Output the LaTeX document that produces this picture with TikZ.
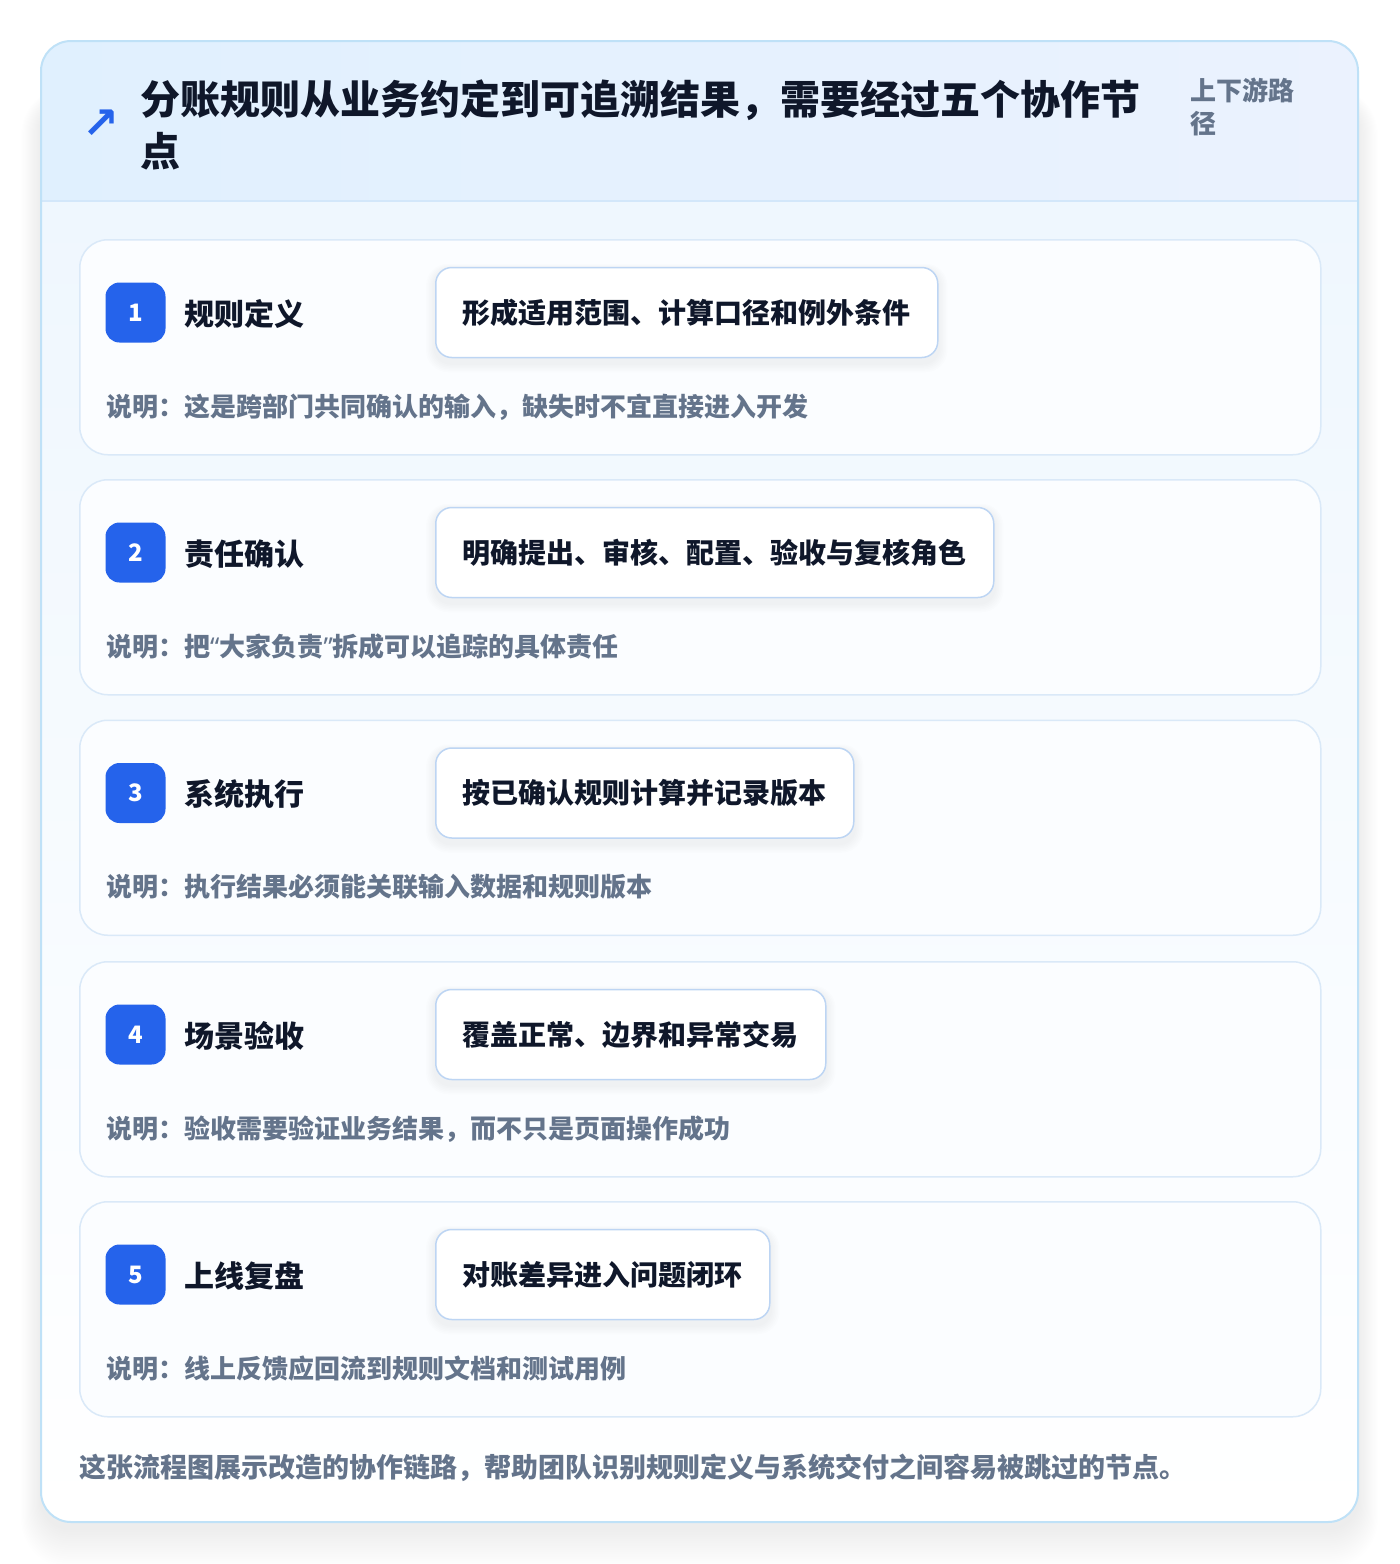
\documentclass[tikz,border=0pt]{standalone}
\usepackage{fontspec}
\setmainfont{Noto Sans CJK SC}
\newfontfamily\symfont{DejaVu Sans}
\newfontfamily\latinfont{Noto Sans}
\definecolor{headl}{HTML}{E0F0FE}
\definecolor{headr}{HTML}{EBF2FE}
\definecolor{bodytop}{HTML}{EFF7FE}
\definecolor{outerb}{HTML}{BFE1F7}
\definecolor{headline}{HTML}{D3E7FA}
\definecolor{cardb}{HTML}{DAE9F8}
\definecolor{cardf}{HTML}{FBFDFF}
\definecolor{badgeblue}{HTML}{2563EB}
\definecolor{pillb}{HTML}{BDD5F3}
\definecolor{darktext}{HTML}{0F172A}
\definecolor{graytext}{HTML}{64748B}
\pgfdeclarelayer{back}
\pgfdeclarelayer{mid}
\pgfsetlayers{back,mid,main}
\tikzset{
  cardbox/.style={draw=cardb, line width=1.5pt, fill=cardf, rounded corners=28pt, minimum width=1241pt, minimum height=215pt, inner sep=0pt},
  badgebox/.style={fill=badgeblue, rounded corners=14pt, minimum width=60pt, minimum height=60pt, inner sep=0pt, text=white, font=\fontsize{24}{24}\selectfont\bfseries},
  steptitle/.style={inner sep=0pt, text=darktext, font=\fontsize{30}{30}\selectfont\bfseries},
  pillbox/.style={draw=pillb, line width=1.5pt, fill=white, rounded corners=16pt, minimum height=90pt, inner xsep=27pt, inner ysep=0pt, text=darktext, font=\fontsize{28}{28}\selectfont\bfseries},
  desctext/.style={inner sep=0pt, text=graytext, font=\fontsize{26}{26}\selectfont\bfseries},
  htitle/.style={inner sep=0pt, text=darktext, font=\fontsize{40}{40}\selectfont\bfseries},
  sidetext/.style={inner sep=0pt, text=graytext, font=\fontsize{26}{26}\selectfont\bfseries},
  foottext/.style={inner sep=0pt, text=graytext, font=\fontsize{27}{27}\selectfont\bfseries},
}
\newcommand{\latq}[1]{{\latinfont #1}}
\begin{document}
\begin{tikzpicture}[x=1pt,y=-1pt]
\useasboundingbox (0,0) rectangle (1400,1564);
\begin{pgfonlayer}{back}
\fill[white] (0,0) rectangle (1400,1564);
% soft shadow of the outer card
\foreach \k in {1,...,18}{
  \fill[black, opacity=0.0048, rounded corners=30pt+\k pt] (41-\k*1.1,41+60-\k*0.8) rectangle (1358+\k*1.1,1522+\k*2.2+6);
}
\begin{scope}
  \clip[rounded corners=30pt] (41,41) rectangle (1358,1522);
  \shade[top color=bodytop, bottom color=white] (41,201) rectangle (1358,1522);
  \shade[left color=headl, right color=headr] (41,41) rectangle (1358,201);
  \draw[headline, line width=1.5pt] (41,201) -- (1358,201);
\end{scope}
\draw[outerb, line width=2pt, rounded corners=30pt] (41,41) rectangle (1358,1522);
\end{pgfonlayer}
% header
\node[text=badgeblue, inner sep=0pt, font=\symfont\bfseries\fontsize{44}{44}\selectfont] (arrow) at (101,124) {↗};
\node[htitle, anchor=base west] (h1) at (140,114) {分账规则从业务约定到可追溯结果，需要经过五个协作节};
\node[htitle, anchor=base west] (h2) at (140,166) {点};
\node[sidetext, anchor=base west] (s1) at (1190,100) {上下游路};
\node[sidetext, anchor=base west] (s2) at (1190,133) {径};
% steps
\foreach \i/\top/\t/\p/\d in {
  1/239/规则定义/形成适用范围、计算口径和例外条件/说明：这是跨部门共同确认的输入，缺失时不宜直接进入开发,
  2/479/责任确认/明确提出、审核、配置、验收与复核角色/说明：把\latq{“}大家负责\latq{”}拆成可以追踪的具体责任,
  3/719.5/系统执行/按已确认规则计算并记录版本/说明：执行结果必须能关联输入数据和规则版本,
  4/961/场景验收/覆盖正常、边界和异常交易/说明：验收需要验证业务结果，而不只是页面操作成功,
  5/1201/上线复盘/对账差异进入问题闭环/说明：线上反馈应回流到规则文档和测试用例}{
  \begin{pgfonlayer}{back}
  \node[cardbox, anchor=north west] (card\i) at (79,\top) {};
  \end{pgfonlayer}
  \node[badgebox] (badge\i) at (135.5,\top+73.5) {\i};
  \node[steptitle, anchor=base west] (title\i) at (184,\top+86) {\t};
  \node[pillbox, anchor=west] (pill\i) at (435,\top+73.5) {\p};
  \begin{pgfonlayer}{mid}
  \foreach \k in {1,...,6}{
    \fill[black, opacity=0.009, rounded corners=16pt+\k pt] ([xshift=-\k*1.5pt, yshift=\k*1pt-3pt]pill\i.north west) rectangle ([xshift=\k*1.5pt, yshift=-\k*1.5pt-5pt]pill\i.south east);
  }
  \end{pgfonlayer}
  \node[desctext, anchor=base west] (desc\i) at (106,\top+177) {\d};
}
\node[foottext, anchor=base west] (foot) at (79,1477) {这张流程图展示改造的协作链路，帮助团队识别规则定义与系统交付之间容易被跳过的节点。};
\end{tikzpicture}
\end{document}
